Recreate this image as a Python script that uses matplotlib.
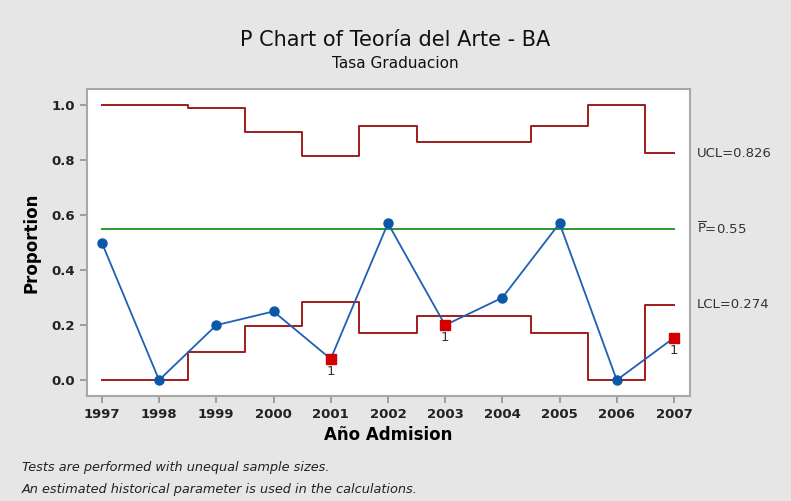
import matplotlib.pyplot as plt

years = [1997, 1998, 1999, 2000, 2001, 2002, 2003, 2004, 2005, 2006, 2007]
proportion = [0.50, 0.0, 0.20, 0.25, 0.077, 0.571, 0.20, 0.30, 0.571, 0.0, 0.154]
ucl = [1.0, 1.0, 0.992, 0.902, 0.816, 0.927, 0.866, 0.866, 0.927, 1.0, 0.826]
lcl = [0.0, 0.0, 0.104, 0.198, 0.284, 0.173, 0.234, 0.234, 0.173, 0.0, 0.274]
p_bar = 0.55
flagged = [2001, 2003, 2007]

fig = plt.figure(figsize=(7.91, 5.01), dpi=100, facecolor="#e6e6e6")
ax = fig.add_axes([87 / 791, 1 - 396 / 501, (690 - 87) / 791, (396 - 89) / 501])
ax.set_facecolor("white")

red = "#a01c1c"
blue = "#1f5fb4"
ax.step(years, ucl, where="mid", color=red, lw=1.4)
ax.step(years, lcl, where="mid", color=red, lw=1.4)
ax.plot([years[0], years[-1]], [p_bar, p_bar], color="#2a9a2a", lw=1.4)

ax.plot(years, proportion, color=blue, lw=1.3, zorder=3)
ok_x = [y for y in years if y not in flagged]
ok_y = [p for y, p in zip(years, proportion) if y not in flagged]
bad_y = [p for y, p in zip(years, proportion) if y in flagged]
ax.plot(ok_x, ok_y, "o", color="#0b58a8", ms=6.5, zorder=4)
ax.plot(flagged, bad_y, "s", color="#d40000", ms=6.5, zorder=4)
for x, y in zip(flagged, bad_y):
    ax.text(x, y - 0.022, "1", ha="center", va="top", fontsize=9.5, color="#333333")

ax.set_xlim(1996.74, 2007.28)
ax.set_ylim(-0.058, 1.06)
ax.set_xticks(years)
ax.set_yticks([0.0, 0.2, 0.4, 0.6, 0.8, 1.0])
ax.set_yticklabels(["0.0", "0.2", "0.4", "0.6", "0.8", "1.0"])
ax.tick_params(colors="#909090", labelcolor="#222222", labelsize=9.5, length=5, width=1.2)
for lab in ax.get_xticklabels() + ax.get_yticklabels():
    lab.set_fontweight("semibold")
for s in ax.spines.values():
    s.set_color("#a8a8a8")
    s.set_linewidth(1.5)

ax.set_xlabel("Año Admision", fontsize=12, fontweight="bold", labelpad=4)
ax.set_ylabel("Proportion", fontsize=12, fontweight="bold", labelpad=8)

tr = ax.get_yaxis_transform()
ax.text(1.012, 0.826, "UCL=0.826", transform=tr, va="center", fontsize=9.5, color="#333333", clip_on=False)
ax.text(1.012, p_bar, r"$\overline{\mathrm{P}}$=0.55", transform=tr, va="center", fontsize=9.5, color="#333333", clip_on=False)
ax.text(1.012, 0.274, "LCL=0.274", transform=tr, va="center", fontsize=9.5, color="#333333", clip_on=False)

fig.text(395 / 791, 1 - 40 / 501, "P Chart of Teoría del Arte - BA", ha="center", va="center", fontsize=15, color="#111111")
fig.text(395 / 791, 1 - 64 / 501, "Tasa Graduacion", ha="center", va="center", fontsize=11, color="#111111")

fig.text(22 / 791, 1 - 467 / 501, "Tests are performed with unequal sample sizes.", fontsize=9.3, style="italic", va="center", color="#222222")
fig.text(22 / 791, 1 - 489 / 501, "An estimated historical parameter is used in the calculations.", fontsize=9.3, style="italic", va="center", color="#222222")

fig.savefig("out.png", dpi=100, facecolor=fig.get_facecolor())
